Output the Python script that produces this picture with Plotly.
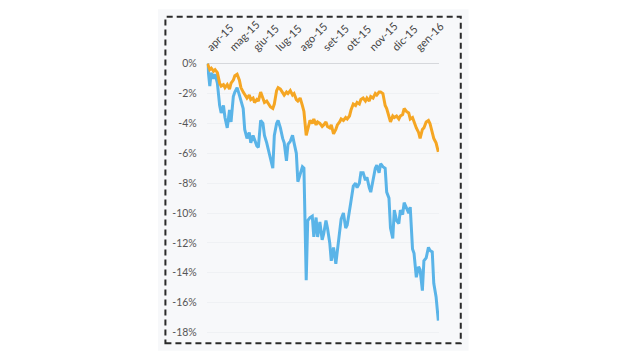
import plotly.graph_objects as go

dates = [
    "2015-04-01", "2015-04-04", "2015-04-06", "2015-04-09", "2015-04-11", "2015-04-14", "2015-04-17", "2015-04-19",
    "2015-04-22", "2015-04-24", "2015-04-27", "2015-04-30", "2015-05-02", "2015-05-05", "2015-05-07", "2015-05-10",
    "2015-05-13", "2015-05-15", "2015-05-18", "2015-05-20", "2015-05-23", "2015-05-26", "2015-05-28", "2015-05-31",
    "2015-06-02", "2015-06-05", "2015-06-07", "2015-06-10", "2015-06-13", "2015-06-15", "2015-06-18", "2015-06-20",
    "2015-06-23", "2015-06-26", "2015-06-28", "2015-07-01", "2015-07-03", "2015-07-06", "2015-07-09", "2015-07-11",
    "2015-07-14", "2015-07-16", "2015-07-19", "2015-07-22", "2015-07-24", "2015-07-27", "2015-07-29", "2015-08-01",
    "2015-08-04", "2015-08-06", "2015-08-09", "2015-08-11", "2015-08-14", "2015-08-17", "2015-08-19", "2015-08-22",
    "2015-08-24", "2015-08-27", "2015-08-30", "2015-09-01", "2015-09-04", "2015-09-06", "2015-09-09", "2015-09-11",
    "2015-09-14", "2015-09-17", "2015-09-19", "2015-09-22", "2015-09-24", "2015-09-27", "2015-09-30", "2015-10-02",
    "2015-10-05", "2015-10-07", "2015-10-10", "2015-10-13", "2015-10-15", "2015-10-18", "2015-10-20", "2015-10-23",
    "2015-10-26", "2015-10-28", "2015-10-31", "2015-11-02", "2015-11-05", "2015-11-08", "2015-11-10", "2015-11-13",
    "2015-11-15", "2015-11-18", "2015-11-21", "2015-11-23", "2015-11-26", "2015-11-28", "2015-12-01", "2015-12-03",
    "2015-12-06", "2015-12-09", "2015-12-11", "2015-12-14", "2015-12-16", "2015-12-19", "2015-12-22", "2015-12-24",
    "2015-12-27", "2015-12-29", "2016-01-01", "2016-01-04", "2016-01-06", "2016-01-09", "2016-01-11", "2016-01-14",
    "2016-01-17", "2016-01-19", "2016-01-22", "2016-01-24", "2016-01-27", "2016-01-30",
]

blue_values = [
    0.0, -1.5, -0.6, -1.0, -0.7, -1.3, -2.8, -3.3, -2.8, -3.6, -4.3, -3.1, -3.9, -2.2, -1.9, -1.6,
    -2.1, -2.5, -3.0, -4.4, -5.0, -4.6, -5.3, -4.8, -5.1, -5.5, -5.6, -3.8, -4.0, -4.8, -5.3, -5.7,
    -6.2, -7.0, -4.8, -4.0, -3.8, -4.3, -5.0, -5.3, -6.5, -5.4, -5.2, -4.8, -5.3, -6.0, -7.9, -7.4,
    -6.9, -7.0, -14.5, -10.5, -10.3, -10.2, -11.6, -10.3, -11.6, -10.6, -11.8, -11.4, -10.5, -11.0, -12.0, -13.2,
    -12.3, -13.4, -12.5, -11.2, -10.4, -10.0, -11.0, -10.8, -10.0, -9.2, -8.2, -8.0, -8.3, -8.0, -7.3, -7.3,
    -7.8, -7.6, -8.3, -8.6, -7.8, -7.0, -6.8, -7.3, -6.7, -6.9, -7.0, -8.6, -9.0, -11.0, -11.7, -9.8,
    -10.5, -10.7, -9.8, -10.1, -9.3, -9.7, -10.0, -9.6, -12.4, -12.7, -14.3, -13.6, -13.8, -15.2, -13.2, -13.0,
    -12.3, -12.5, -12.6, -14.7, -15.6, -17.2,
]

orange_values = [
    0.0, -0.4, -0.3, -0.5, -0.4, -0.6, -1.3, -1.5, -1.4, -1.6, -1.4, -1.7, -1.3, -1.1, -0.8, -0.7,
    -1.1, -1.6, -1.9, -2.1, -2.3, -2.1, -2.4, -2.3, -2.6, -2.4, -2.5, -1.9, -2.3, -2.6, -2.5, -2.7,
    -2.9, -3.0, -2.7, -1.8, -1.6, -1.7, -2.0, -2.1, -1.9, -2.0, -1.8, -2.1, -2.0, -2.4, -2.5, -2.3,
    -2.8, -3.2, -4.8, -4.3, -3.8, -4.0, -3.7, -4.1, -3.9, -4.0, -4.2, -4.1, -3.9, -4.2, -4.3, -4.1,
    -4.7, -4.4, -4.1, -3.9, -3.7, -3.8, -3.6, -3.7, -3.5, -3.1, -2.7, -2.8, -2.6, -2.7, -2.4, -2.3,
    -2.5, -2.3, -2.5, -2.2, -2.3, -2.0, -2.1, -1.9, -1.9, -2.0, -2.8, -3.0, -3.5, -3.9, -3.5, -3.6,
    -3.5, -3.7, -3.5, -3.4, -3.0, -3.2, -3.3, -3.7, -3.6, -3.9, -4.3, -4.6, -5.0, -4.4, -4.3, -3.9,
    -3.8, -4.0, -4.5, -5.0, -5.3, -5.9,
]

month_ticks = ["2015-04-01", "2015-05-01", "2015-06-01", "2015-07-01", "2015-08-01",
               "2015-09-01", "2015-10-01", "2015-11-01", "2015-12-01", "2016-01-01"]
month_labels = ["apr-15", "mag-15", "giu-15", "lug-15", "ago-15",
                "set-15", "ott-15", "nov-15", "dic-15", "gen-16"]

y_ticks = [0, -2, -4, -6, -8, -10, -12, -14, -16, -18]
y_labels = ["0%", "-2%", "-4%", "-6%", "-8%", "-10%", "-12%", "-14%", "-16%", "-18%"]

fig = go.Figure()
fig.add_trace(go.Scatter(x=dates, y=blue_values, mode="lines",
                         line=dict(color="#5AB4E8", width=3), showlegend=False))
fig.add_trace(go.Scatter(x=dates, y=orange_values, mode="lines",
                         line=dict(color="#F5A623", width=3), showlegend=False))

fig.update_layout(
    width=640, height=360,
    margin=dict(l=0, r=0, t=0, b=0),
    paper_bgcolor="#ffffff",
    plot_bgcolor="rgba(0,0,0,0)",
    font=dict(family="Lato, Open Sans, sans-serif", size=11, color="#555555"),
    xaxis=dict(
        domain=[0.3234, 0.6922],
        range=["2015-03-31", "2016-01-31"],
        side="top",
        tickvals=month_ticks, ticktext=month_labels,
        tickangle=-45,
        showgrid=False, zeroline=False, showline=False,
        ticks="", ticklabelstandoff=5,
        tickfont=dict(size=11, color="#444444"),
    ),
    yaxis=dict(
        domain=[0.0625, 0.8367],
        range=[-18.1, 0.15],
        tickvals=y_ticks, ticktext=y_labels,
        showgrid=True, gridcolor="#eff1f4", gridwidth=1,
        zeroline=True, zerolinecolor="#d6d8dc", zerolinewidth=1,
        showline=False, ticks="", ticklabelstandoff=9,
        tickfont=dict(size=10.5, color="#555555"),
    ),
    shapes=[
        dict(type="rect", xref="paper", yref="paper", x0=0.246, x1=0.739, y0=0.015, y1=0.985,
             fillcolor="#f7f8fa", line=dict(width=0), layer="below"),
        dict(type="rect", xref="paper", yref="paper", x0=0.2578, x1=0.7266, y0=0.0361, y1=0.9639,
             fillcolor="rgba(0,0,0,0)", line=dict(color="#2a2a2a", width=2, dash="6px,4px"), layer="above"),
    ],
)

fig.write_html("out.html")
